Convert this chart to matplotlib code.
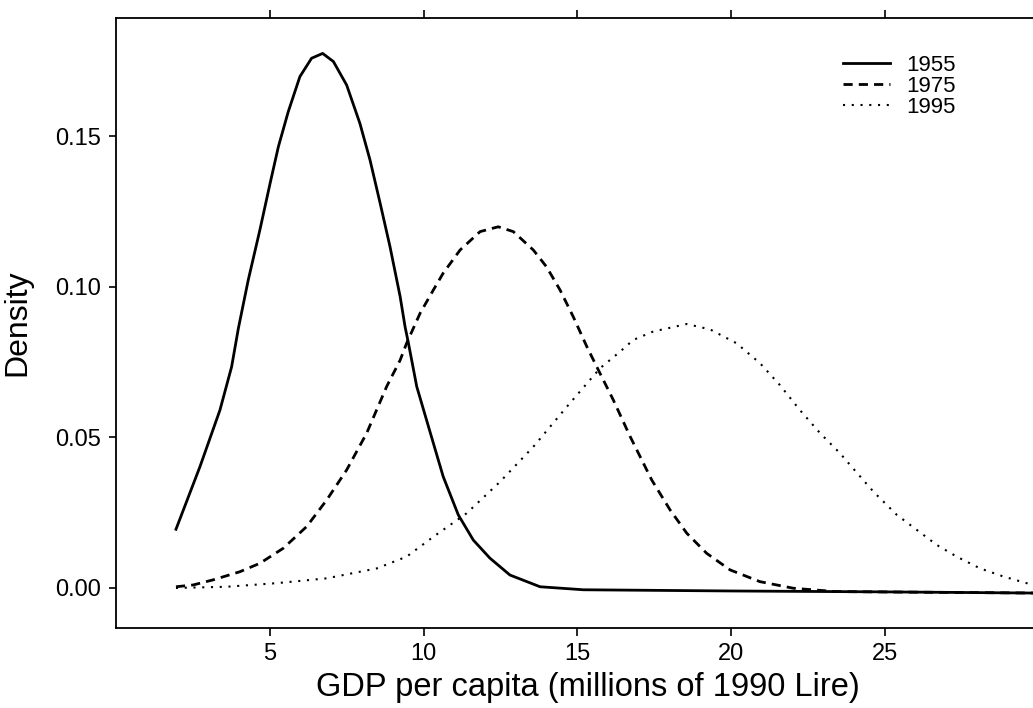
import numpy as np
import matplotlib
matplotlib.use('Agg')
import matplotlib.pyplot as plt

plt.rcParams['font.family'] = ['Liberation Sans', 'DejaVu Sans']

# Kernel density estimates of GDP per capita, three years
x1955 = [1.95, 2.73, 3.38, 3.76, 3.98, 4.30, 4.68, 5.01, 5.28, 5.60, 5.98, 6.36,
         6.72, 7.07, 7.50, 7.93, 8.26, 8.59, 8.91, 9.24, 9.40, 9.51, 9.78, 10.32,
         10.64, 11.13, 11.62, 12.16, 12.81, 13.79, 15.2, 20.0, 25.0, 30.0]
y1955 = [0.0195, 0.0403, 0.0591, 0.0735, 0.0863, 0.1023, 0.1190, 0.1344, 0.1466,
         0.1582, 0.1699, 0.1760, 0.1776, 0.1749, 0.1671, 0.1544, 0.1422, 0.1278,
         0.1134, 0.0968, 0.0868, 0.0813, 0.0669, 0.0481, 0.0370, 0.0243, 0.0159,
         0.0099, 0.0043, 0.0004, -0.0006, -0.0010, -0.0013, -0.0017]

x1975 = [1.95, 2.51, 3.16, 4.03, 4.68, 5.44, 6.20, 6.85, 7.50, 8.15, 8.80, 9.24,
         9.45, 9.89, 10.32, 10.64, 11.19, 11.84, 12.43, 12.92, 13.57, 14.00, 14.44,
         14.87, 15.31, 15.74, 16.17, 16.72, 17.26, 17.42, 18.02, 18.56, 19.21,
         19.97, 20.94, 22.03, 23.40, 30.0]
y1975 = [0.0004, 0.0010, 0.0027, 0.0054, 0.0082, 0.0132, 0.0204, 0.0292, 0.0392,
         0.0514, 0.0669, 0.0757, 0.0813, 0.0913, 0.0990, 0.1046, 0.1123, 0.1184,
         0.1200, 0.1184, 0.1123, 0.1067, 0.0990, 0.0901, 0.0802, 0.0713, 0.0625,
         0.0503, 0.0392, 0.0359, 0.0259, 0.0182, 0.0115, 0.0060, 0.0021, -0.0001,
         -0.0012, -0.0017]

x1995 = [1.95, 3.60, 5.23, 6.85, 8.48, 9.45, 10.32, 11.40, 12.49, 13.57, 14.66,
         15.74, 16.39, 16.82, 17.47, 18.56, 19.32, 20.18, 20.94, 21.59, 22.24,
         22.90, 23.54, 23.92, 24.63, 25.39, 26.04, 26.69, 27.34, 28.10, 28.86,
         29.61, 30.0]
y1995 = [0.0000, 0.0004, 0.0016, 0.0032, 0.0065, 0.0104, 0.0170, 0.0248, 0.0353,
         0.0469, 0.0602, 0.0730, 0.0785, 0.0824, 0.0852, 0.0877, 0.0859, 0.0813,
         0.0747, 0.0674, 0.0591, 0.0514, 0.0448, 0.0403, 0.0320, 0.0243, 0.0193,
         0.0143, 0.0104, 0.0065, 0.0038, 0.0016, 0.0010]

years = ['1955', '1975', '1995']
xticks = [5, 10, 15, 20, 25]
yticks = [0.00, 0.05, 0.10, 0.15]

# Plot
# ~~~~
fig = plt.figure(figsize=(10.33, 7.08), dpi=100)
ax = fig.add_axes([0.1123, 0.113, 0.8877, 0.8617])

ax.plot(x1955, y1955, color='black', linewidth=2.0, linestyle='-',
        label=years[0], solid_joinstyle='round')
ax.plot(x1975, y1975, color='black', linewidth=2.0,
        linestyle=(0, (3.3, 2.2)), label=years[1])
ax.plot(x1995, y1995, color='black', linewidth=1.5,
        linestyle=(0, (1, 3.2)), label=years[2])

ax.set_xlim(0, 29.82)
ax.set_ylim(-0.0133, 0.1894)
ax.set_xticks(xticks)
ax.set_xticklabels([str(t) for t in xticks])
ax.set_yticks(yticks)
ax.set_yticklabels(['%.2f' % t for t in yticks])

ax.spines['right'].set_visible(False)
for s in ['left', 'bottom', 'top']:
    ax.spines[s].set_linewidth(1.3)

ax.tick_params(axis='x', direction='out', length=6, width=1.2,
               labelsize=17, pad=5, top=True, labeltop=False)
ax.tick_params(axis='y', direction='out', length=5, width=1.2,
               labelsize=17, pad=6)

ax.set_xlabel('GDP per capita (millions of 1990 Lire)', fontsize=23.5)
ax.xaxis.set_label_coords(0.515, -0.072)
ax.set_ylabel('Density', fontsize=23)
ax.yaxis.set_label_coords(-0.0916, 0.5)

leg = ax.legend(loc='upper left', bbox_to_anchor=(0.793, 0.94),
                frameon=False, fontsize=16, handlelength=2.1,
                handletextpad=0.75, labelspacing=0.0, borderpad=0,
                borderaxespad=0)

fig.savefig('out.png', dpi=100)
